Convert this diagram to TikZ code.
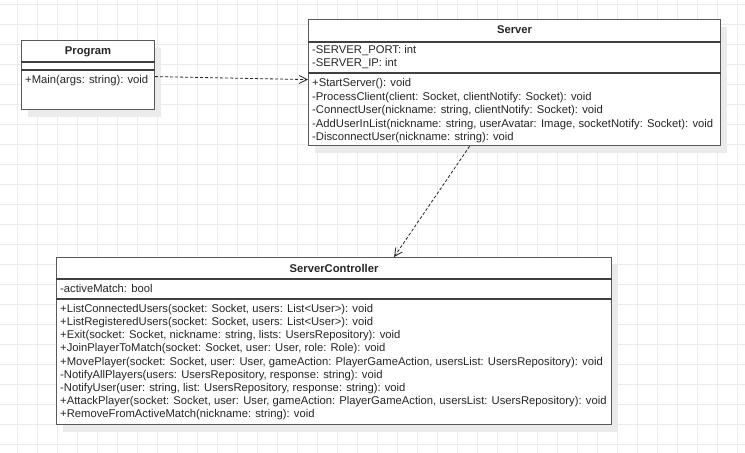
\documentclass[tikz,border=0pt]{standalone}
\usepackage{fontspec}
\setmainfont{Liberation Sans}
\usetikzlibrary{arrows.meta,shadows}
\tikzset{
  umlbox/.style={draw=black!65, line width=1.2bp, fill=white, inner sep=0pt, anchor=north west,
    drop shadow={shadow xshift=6bp, shadow yshift=-7bp, fill=black!8, opacity=1}},
  sepline/.style={draw=black!75, line width=1.2bp},
  gridline/.style={draw=black!8, line width=0.9bp},
  classname/.style={font=\fontsize{11.25bp}{13.5bp}\selectfont\bfseries, inner sep=0pt, anchor=base, text=black!85},
  members/.style={font=\fontsize{11.25bp}{#1}\selectfont, inner sep=0pt, anchor=base west, align=left, xshift=4bp, text=black!85},
  members/.default=13.5bp,
  dep/.style={black!85, line width=0.8bp, dash pattern=on 3bp off 2bp, -{Straight Barb[length=8bp,width=8bp]}}
}
\begin{document}
\begin{tikzpicture}[x=1bp, y=-1bp]
  \useasboundingbox[fill=white] (0,0) rectangle (745,453);
  \foreach \gx in {17.5,37.5,...,737.5} \draw[gridline] (\gx,0) -- (\gx,453);
  \foreach \gy in {4,24,...,444} \draw[gridline] (0,\gy) -- (745,\gy);

  \node[umlbox, minimum width=133bp, minimum height=69bp] (program) at (21,40) {};
  \draw[sepline] (program.west |- 0,62) -- (program.east |- 0,62);
  \draw[sepline] (program.west |- 0,70) -- (program.east |- 0,70);
  \node[classname] (program-name) at (program.north |- 0,55) {Program};
  \node[members] (program-ops) at (program.west |- 0,84) {+Main(args: string): void};

  \node[umlbox, minimum width=412bp, minimum height=126bp] (server) at (308,19) {};
  \draw[sepline] (server.west |- 0,42) -- (server.east |- 0,42);
  \draw[sepline] (server.west |- 0,73) -- (server.east |- 0,73);
  \node[classname] (server-name) at (server.north |- 0,34) {Server};
  \node[members=12.7bp] (server-attrs) at (server.west |- 0,66.7) {-SERVER\_PORT: int\\-SERVER\_IP: int};
  \node[members] (server-ops) at (server.west |- 0,140.7) {+StartServer(): void\\
    -ProcessClient(client: Socket, clientNotify: Socket): void\\
    -ConnectUser(nickname: string, clientNotify: Socket): void\\
    -AddUserInList(nickname: string, userAvatar: Image, socketNotify: Socket): void\\
    -DisconnectUser(nickname: string): void};

  \node[umlbox, minimum width=555bp, minimum height=167bp] (controller) at (56,257) {};
  \draw[sepline] (controller.west |- 0,279) -- (controller.east |- 0,279);
  \draw[sepline] (controller.west |- 0,299) -- (controller.east |- 0,299);
  \node[classname] (controller-name) at (controller.north |- 0,272.3) {ServerController};
  \node[members] (controller-attrs) at (controller.west |- 0,292.3) {-activeMatch: bool};
  \node[members=13.2bp] (controller-ops) at (controller.west |- 0,417.9) {+ListConnectedUsers(socket: Socket, users: List<User>): void\\
    +ListRegisteredUsers(socket: Socket, users: List<User>): void\\
    +Exit(socket: Socket, nickname: string, lists: UsersRepository): void\\
    +JoinPlayerToMatch(socket: Socket, user: User, role: Role): void\\
    +MovePlayer(socket: Socket, user: User, gameAction: PlayerGameAction, usersList: UsersRepository): void\\
    -NotifyAllPlayers(users: UsersRepository, response: string): void\\
    -NotifyUser(user: string, list: UsersRepository, response: string): void\\
    +AttackPlayer(socket: Socket, user: User, gameAction: PlayerGameAction, usersList: UsersRepository): void\\
    +RemoveFromActiveMatch(nickname: string): void};

  \draw[dep] ([yshift=-1.5bp]program.east) -- ([yshift=3bp]server.west);
  \draw[dep] ([xshift=-45bp]server.south) -- ([xshift=60bp]controller.north);
\end{tikzpicture}
\end{document}
